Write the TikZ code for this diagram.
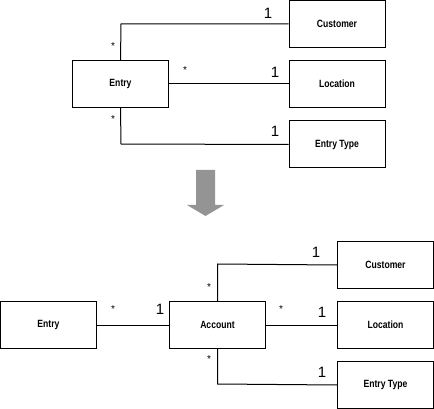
\documentclass[tikz,border=0pt]{standalone}
\usepackage{fontspec}
\setmainfont{Liberation Sans}
\newfontfamily\boxfont[FakeStretch=0.82]{Liberation Sans}
\begin{document}
\begin{tikzpicture}[x=1pt,y=-1pt,
  cls/.style={draw=black,line width=1pt,minimum width=96pt,minimum height=47pt,inner sep=0pt,font=\boxfont\bfseries\fontsize{10.5}{12}\selectfont},
  assoc/.style={draw=black,line width=1pt},
  one/.style={font=\fontsize{15}{16}\selectfont,inner sep=0pt},
  many/.style={font=\fontsize{10}{11}\selectfont,inner sep=0pt}]
\useasboundingbox (0,0) rectangle (434,409);
% top
\node[cls] (e1) at (120.5,84) {Entry};
\node[cls] (c1) at (337,24) {Customer};
\node[cls] (l1) at (337,84) {Location};
\node[cls] (t1) at (337,144.5) {Entry Type};
\coordinate (k1) at (121,24);
\coordinate (k2) at (121,144);
\draw[assoc] (e1.north) -- (k1) -- (c1.west);
\draw[assoc] (e1.east) -- (l1.west);
\draw[assoc] (e1.south) -- (k2) -- (t1.west);
\node[one] (o1) at (268,13) {1};
\node[one] (o2) at (275,72) {1};
\node[one] (o3) at (275,131) {1};
\node[many] (s1) at (113,46) {*};
\node[many] (s2) at (185,70) {*};
\node[many] (s3) at (113,119) {*};
% arrow
\fill[gray!80!black!70] (196,170) -- (215,170) -- (215,205) -- (224,205) -- (205.5,216) -- (187,205) -- (196,205) -- cycle;
% bottom
\node[cls] (e2) at (48.5,325) {Entry};
\node[cls] (a2) at (217.5,325) {Account};
\node[cls] (c2) at (385.5,265) {Customer};
\node[cls] (l2) at (385.5,325) {Location};
\node[cls] (t2) at (385.5,385) {Entry Type};
\coordinate (k3) at (217.5,264);
\coordinate (k4) at (217.5,384);
\draw[assoc] (e2.east) -- (a2.west);
\draw[assoc] (a2.north) -- (k3) -- (c2.west);
\draw[assoc] (a2.east) -- (l2.west);
\draw[assoc] (a2.south) -- (k4) -- (t2.west);
\node[many] (s4) at (113,309) {*};
\node[one] (o4) at (160,309) {1};
\node[many] (s5) at (281,309) {*};
\node[one] (o5) at (322,312) {1};
\node[one] (o6) at (316,252) {1};
\node[many] (s6) at (209,287) {*};
\node[many] (s7) at (209,359) {*};
\node[one] (o7) at (322,372) {1};
\end{tikzpicture}
\end{document}
